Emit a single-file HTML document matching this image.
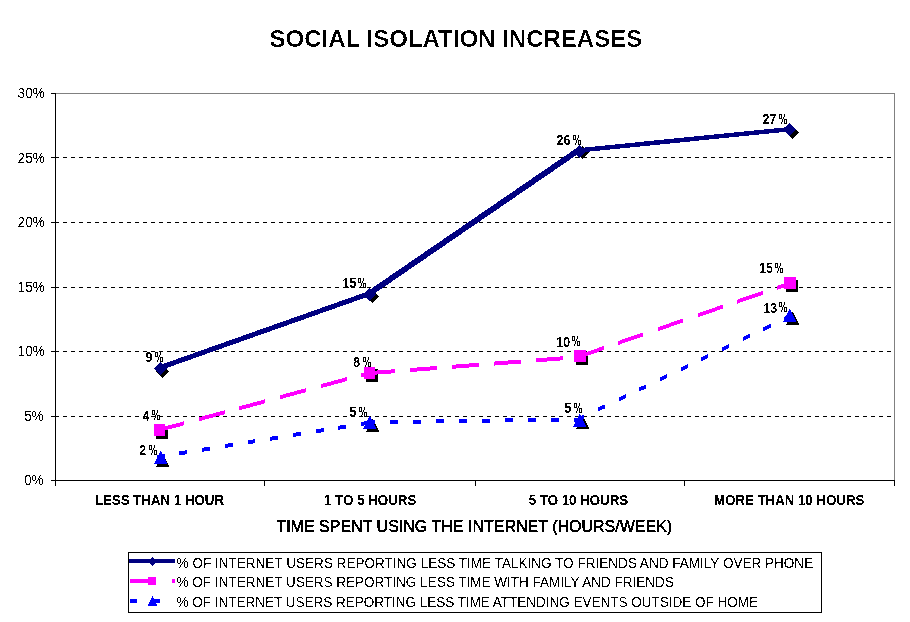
<!DOCTYPE html>
<html><head><meta charset="utf-8"><title>Social Isolation Increases</title>
<style>html,body{margin:0;padding:0;background:#fff}body{width:910px;height:622px;overflow:hidden}svg{display:block}text{font-family:"Liberation Sans",sans-serif;fill:#000}.b{font-weight:bold}</style></head><body>
<svg width="910" height="622" viewBox="0 0 910 622">
<rect x="0" y="0" width="910" height="622" fill="#fff"/>
<defs><filter id="al" x="0" y="0" width="910" height="622" filterUnits="userSpaceOnUse" color-interpolation-filters="sRGB"><feComponentTransfer><feFuncA type="discrete" tableValues="0 1"/></feComponentTransfer></filter><filter id="al2" x="0" y="0" width="910" height="622" filterUnits="userSpaceOnUse" color-interpolation-filters="sRGB"><feComponentTransfer><feFuncA type="discrete" tableValues="0 0 1"/></feComponentTransfer></filter></defs>
<g shape-rendering="crispEdges">
<rect x="55" y="93" width="840" height="1" fill="#808080"/>
<rect x="894" y="93" width="1" height="388" fill="#808080"/>
<line x1="55" y1="157.5" x2="894" y2="157.5" stroke="#000" stroke-width="1" stroke-dasharray="4 4"/>
<line x1="55" y1="222.5" x2="894" y2="222.5" stroke="#000" stroke-width="1" stroke-dasharray="4 4"/>
<line x1="55" y1="287.5" x2="894" y2="287.5" stroke="#000" stroke-width="1" stroke-dasharray="4 4"/>
<line x1="55" y1="351.5" x2="894" y2="351.5" stroke="#000" stroke-width="1" stroke-dasharray="4 4"/>
<line x1="55" y1="416.5" x2="894" y2="416.5" stroke="#000" stroke-width="1" stroke-dasharray="4 4"/>
<rect x="55" y="93" width="1" height="393" fill="#000"/>
<rect x="55" y="480" width="840" height="1" fill="#000"/>
<rect x="51" y="93" width="5" height="1" fill="#000"/>
<rect x="51" y="157" width="5" height="1" fill="#000"/>
<rect x="51" y="222" width="5" height="1" fill="#000"/>
<rect x="51" y="287" width="5" height="1" fill="#000"/>
<rect x="51" y="351" width="5" height="1" fill="#000"/>
<rect x="51" y="416" width="5" height="1" fill="#000"/>
<rect x="51" y="480" width="5" height="1" fill="#000"/>
<rect x="55" y="480" width="1" height="6" fill="#000"/>
<rect x="264" y="480" width="1" height="6" fill="#000"/>
<rect x="475" y="480" width="1" height="6" fill="#000"/>
<rect x="684" y="480" width="1" height="6" fill="#000"/>
<rect x="894" y="480" width="1" height="6" fill="#000"/>
</g>
<g shape-rendering="crispEdges">
<polygon points="162.5,365.0 169.0,371.5 162.5,378.0 156.0,371.5" fill="#000"/>
<polygon points="372.5,290.0 379.0,296.5 372.5,303.0 366.0,296.5" fill="#000"/>
<polygon points="582.5,146.0 589.0,152.5 582.5,159.0 576.0,152.5" fill="#000"/>
<polygon points="792.5,126.0 799.0,132.5 792.5,139.0 786.0,132.5" fill="#000"/>
<line x1="160.5" y1="367.50" x2="369.5" y2="293.50" stroke="#000080" stroke-width="5"/>
<line x1="369.5" y1="293.40" x2="579.5" y2="149.50" stroke="#000080" stroke-width="5.8"/>
<line x1="579.5" y1="150.30" x2="789.5" y2="129.20" stroke="#000080" stroke-width="4.5"/>
<polygon points="160.5,362.0 167.0,368.5 160.5,375.0 154.0,368.5" fill="#000080"/>
<polygon points="369.5,288.0 376.0,294.5 369.5,301.0 363.0,294.5" fill="#000080"/>
<polygon points="579.5,145.0 586.0,151.5 579.5,158.0 573.0,151.5" fill="#000080"/>
<polygon points="789.5,123.0 796.0,129.5 789.5,136.0 783.0,129.5" fill="#000080"/>
<rect x="156" y="427" width="12" height="12" fill="#000"/>
<rect x="366" y="369" width="12" height="13" fill="#000"/>
<rect x="576" y="353" width="12" height="12" fill="#000"/>
<rect x="786" y="280" width="12" height="12" fill="#000"/>
<polygon points="157.77,428.42 183.83,421.35 183.83,425.35 157.77,432.42" fill="#ff00ff"/>
<polygon points="198.50,417.37 224.55,410.30 224.55,414.30 198.50,421.37" fill="#ff00ff"/>
<polygon points="239.22,406.32 265.28,399.24 265.28,403.24 239.22,410.32" fill="#ff00ff"/>
<polygon points="279.95,395.26 306.01,388.19 306.01,392.19 279.95,399.26" fill="#ff00ff"/>
<polygon points="320.68,384.21 346.73,377.13 346.73,381.13 320.68,388.21" fill="#ff00ff"/>
<polygon points="361.40,373.15 369.70,370.90 369.70,374.90 361.40,377.15" fill="#ff00ff"/>
<polygon points="367.71,371.25 394.63,369.19 394.63,373.19 367.71,375.25" fill="#ff00ff"/>
<polygon points="409.78,368.03 436.70,365.97 436.70,369.97 409.78,372.03" fill="#ff00ff"/>
<polygon points="451.86,364.81 478.78,362.75 478.78,366.75 451.86,368.81" fill="#ff00ff"/>
<polygon points="493.94,361.58 520.86,359.52 520.86,363.52 493.94,365.58" fill="#ff00ff"/>
<polygon points="536.01,358.36 562.93,356.30 562.93,360.30 536.01,362.36" fill="#ff00ff"/>
<polygon points="578.09,355.14 579.90,355.00 579.90,359.00 578.09,359.14" fill="#ff00ff"/>
<polygon points="578.01,354.96 603.52,346.09 603.52,350.09 578.01,358.96" fill="#ff00ff"/>
<polygon points="617.87,341.11 643.38,332.24 643.38,336.24 617.87,345.11" fill="#ff00ff"/>
<polygon points="657.74,327.26 683.24,318.39 683.24,322.39 657.74,331.26" fill="#ff00ff"/>
<polygon points="697.60,313.41 723.10,304.54 723.10,308.54 697.60,317.41" fill="#ff00ff"/>
<polygon points="737.46,299.56 762.96,290.69 762.96,294.69 737.46,303.56" fill="#ff00ff"/>
<polygon points="777.32,285.70 790.00,281.30 790.00,285.30 777.32,289.70" fill="#ff00ff"/>
<rect x="154" y="424" width="11" height="12" fill="#ff00ff"/>
<rect x="364" y="367" width="11" height="12" fill="#ff00ff"/>
<rect x="574" y="350" width="12" height="12" fill="#ff00ff"/>
<rect x="784" y="277" width="12" height="12" fill="#ff00ff"/>
<polygon points="162.75,453.5 169.5,467 156.0,467" fill="#000"/>
<polygon points="372.75,418.5 379.5,432 366.0,432" fill="#000"/>
<polygon points="582.75,415.5 589.5,429 576.0,429" fill="#000"/>
<polygon points="792.75,311.5 799.5,325 786.0,325" fill="#000"/>
<polygon points="156.74,455.08 164.64,453.80 164.64,457.80 156.74,459.08" fill="#0000ff"/>
<polygon points="179.44,451.41 187.34,450.13 187.34,454.13 179.44,455.41" fill="#0000ff"/>
<polygon points="202.15,447.74 210.05,446.46 210.05,450.46 202.15,451.74" fill="#0000ff"/>
<polygon points="224.85,444.07 232.75,442.79 232.75,446.79 224.85,448.07" fill="#0000ff"/>
<polygon points="247.56,440.40 255.46,439.12 255.46,443.12 247.56,444.40" fill="#0000ff"/>
<polygon points="270.26,436.73 278.16,435.45 278.16,439.45 270.26,440.73" fill="#0000ff"/>
<polygon points="292.97,433.05 300.87,431.78 300.87,435.78 292.97,437.05" fill="#0000ff"/>
<polygon points="315.67,429.38 323.57,428.11 323.57,432.11 315.67,433.38" fill="#0000ff"/>
<polygon points="338.38,425.71 346.28,424.44 346.28,428.44 338.38,429.71" fill="#0000ff"/>
<polygon points="361.09,422.04 368.98,420.77 368.98,424.77 361.09,426.04" fill="#0000ff"/>
<polygon points="366.70,420.18 374.70,420.08 374.70,424.08 366.70,424.18" fill="#0000ff"/>
<polygon points="389.70,419.90 397.70,419.80 397.70,423.80 389.70,423.90" fill="#0000ff"/>
<polygon points="412.70,419.62 420.70,419.52 420.70,423.52 412.70,423.62" fill="#0000ff"/>
<polygon points="435.70,419.34 443.69,419.25 443.69,423.25 435.70,423.34" fill="#0000ff"/>
<polygon points="458.69,419.06 466.69,418.97 466.69,422.97 458.69,423.06" fill="#0000ff"/>
<polygon points="481.69,418.79 489.69,418.69 489.69,422.69 481.69,422.79" fill="#0000ff"/>
<polygon points="504.69,418.51 512.69,418.41 512.69,422.41 504.69,422.51" fill="#0000ff"/>
<polygon points="527.69,418.23 535.69,418.13 535.69,422.13 527.69,422.23" fill="#0000ff"/>
<polygon points="550.69,417.95 558.69,417.86 558.69,421.86 550.69,421.95" fill="#0000ff"/>
<polygon points="573.69,417.68 579.90,417.60 579.90,421.60 573.69,421.68" fill="#0000ff"/>
<polygon points="577.20,417.81 584.40,414.31 584.40,418.31 577.20,421.81" fill="#0000ff"/>
<polygon points="597.88,407.74 605.07,404.24 605.07,408.24 597.88,411.74" fill="#0000ff"/>
<polygon points="618.56,397.68 625.75,394.17 625.75,398.17 618.56,401.68" fill="#0000ff"/>
<polygon points="639.24,387.61 646.43,384.10 646.43,388.10 639.24,391.61" fill="#0000ff"/>
<polygon points="659.92,377.54 667.11,374.04 667.11,378.04 659.92,381.54" fill="#0000ff"/>
<polygon points="680.60,367.47 687.79,363.97 687.79,367.97 680.60,371.47" fill="#0000ff"/>
<polygon points="701.28,357.40 708.47,353.90 708.47,357.90 701.28,361.40" fill="#0000ff"/>
<polygon points="721.96,347.33 729.15,343.83 729.15,347.83 721.96,351.33" fill="#0000ff"/>
<polygon points="742.63,337.26 749.83,333.76 749.83,337.76 742.63,341.26" fill="#0000ff"/>
<polygon points="763.31,327.19 770.51,323.69 770.51,327.69 763.31,331.19" fill="#0000ff"/>
<polygon points="783.99,317.13 790.00,314.20 790.00,318.20 783.99,321.13" fill="#0000ff"/>
<polygon points="160.75,450.5 167.5,464 154.0,464" fill="#0000ff"/>
<polygon points="369.75,415.5 376.5,429 363.0,429" fill="#0000ff"/>
<polygon points="579.75,413.5 586.5,427 573.0,427" fill="#0000ff"/>
<polygon points="789.75,308.5 796.5,322 783.0,322" fill="#0000ff"/>
</g>
<g shape-rendering="crispEdges">
<rect x="128.5" y="552.5" width="693" height="60" fill="#fff" stroke="#000" stroke-width="1"/>
<rect x="129" y="559" width="46" height="4" fill="#000080"/>
<polygon points="152.5,557.0 157.0,561.5 152.5,566.0 148.0,561.5" fill="#000080"/>
<rect x="130" y="579" width="26" height="4" fill="#ff00ff"/><rect x="172" y="579" width="3" height="4" fill="#ff00ff"/>
<rect x="148" y="577" width="8" height="8" fill="#ff00ff"/>
<rect x="130" y="599" width="7" height="4" fill="#0000ff"/><rect x="153" y="599" width="7" height="4" fill="#0000ff"/>
<rect x="152" y="596" width="1" height="2" fill="#0000ff"/>
<rect x="151" y="598" width="3" height="2" fill="#0000ff"/>
<rect x="150" y="600" width="5" height="2" fill="#0000ff"/>
<rect x="149" y="602" width="7" height="2" fill="#0000ff"/>
<rect x="148" y="604" width="9" height="2" fill="#0000ff"/>
</g>
<g shape-rendering="crispEdges" fill="#000">
<path transform="translate(155,352)" d="M0 0h3v1h-3zM5 0h1v1h-1zM0 1h1v1h-1zM2 1h1v1h-1zM5 1h1v1h-1zM0 2h1v1h-1zM2 2h1v1h-1zM5 2h1v1h-1zM0 3h1v1h-1zM2 3h1v1h-1zM4 3h1v1h-1zM0 4h3v1h-3zM4 4h1v1h-1zM3 5h1v1h-1zM5 5h3v1h-3zM3 6h1v1h-1zM5 6h1v1h-1zM7 6h1v1h-1zM3 7h1v1h-1zM5 7h1v1h-1zM7 7h1v1h-1zM2 8h1v1h-1zM5 8h1v1h-1zM7 8h1v1h-1zM2 9h1v1h-1zM5 9h3v1h-3z"/>
<path transform="translate(358,278)" d="M0 0h3v1h-3zM5 0h1v1h-1zM0 1h1v1h-1zM2 1h1v1h-1zM5 1h1v1h-1zM0 2h1v1h-1zM2 2h1v1h-1zM5 2h1v1h-1zM0 3h1v1h-1zM2 3h1v1h-1zM4 3h1v1h-1zM0 4h3v1h-3zM4 4h1v1h-1zM3 5h1v1h-1zM5 5h3v1h-3zM3 6h1v1h-1zM5 6h1v1h-1zM7 6h1v1h-1zM3 7h1v1h-1zM5 7h1v1h-1zM7 7h1v1h-1zM2 8h1v1h-1zM5 8h1v1h-1zM7 8h1v1h-1zM2 9h1v1h-1zM5 9h3v1h-3z"/>
<path transform="translate(573,135)" d="M0 0h3v1h-3zM5 0h1v1h-1zM0 1h1v1h-1zM2 1h1v1h-1zM5 1h1v1h-1zM0 2h1v1h-1zM2 2h1v1h-1zM5 2h1v1h-1zM0 3h1v1h-1zM2 3h1v1h-1zM4 3h1v1h-1zM0 4h3v1h-3zM4 4h1v1h-1zM3 5h1v1h-1zM5 5h3v1h-3zM3 6h1v1h-1zM5 6h1v1h-1zM7 6h1v1h-1zM3 7h1v1h-1zM5 7h1v1h-1zM7 7h1v1h-1zM2 8h1v1h-1zM5 8h1v1h-1zM7 8h1v1h-1zM2 9h1v1h-1zM5 9h3v1h-3z"/>
<path transform="translate(779,114)" d="M0 0h3v1h-3zM5 0h1v1h-1zM0 1h1v1h-1zM2 1h1v1h-1zM5 1h1v1h-1zM0 2h1v1h-1zM2 2h1v1h-1zM5 2h1v1h-1zM0 3h1v1h-1zM2 3h1v1h-1zM4 3h1v1h-1zM0 4h3v1h-3zM4 4h1v1h-1zM3 5h1v1h-1zM5 5h3v1h-3zM3 6h1v1h-1zM5 6h1v1h-1zM7 6h1v1h-1zM3 7h1v1h-1zM5 7h1v1h-1zM7 7h1v1h-1zM2 8h1v1h-1zM5 8h1v1h-1zM7 8h1v1h-1zM2 9h1v1h-1zM5 9h3v1h-3z"/>
<path transform="translate(152,410)" d="M0 0h3v1h-3zM5 0h1v1h-1zM0 1h1v1h-1zM2 1h1v1h-1zM5 1h1v1h-1zM0 2h1v1h-1zM2 2h1v1h-1zM5 2h1v1h-1zM0 3h1v1h-1zM2 3h1v1h-1zM4 3h1v1h-1zM0 4h3v1h-3zM4 4h1v1h-1zM3 5h1v1h-1zM5 5h3v1h-3zM3 6h1v1h-1zM5 6h1v1h-1zM7 6h1v1h-1zM3 7h1v1h-1zM5 7h1v1h-1zM7 7h1v1h-1zM2 8h1v1h-1zM5 8h1v1h-1zM7 8h1v1h-1zM2 9h1v1h-1zM5 9h3v1h-3z"/>
<path transform="translate(363,357)" d="M0 0h3v1h-3zM5 0h1v1h-1zM0 1h1v1h-1zM2 1h1v1h-1zM5 1h1v1h-1zM0 2h1v1h-1zM2 2h1v1h-1zM5 2h1v1h-1zM0 3h1v1h-1zM2 3h1v1h-1zM4 3h1v1h-1zM0 4h3v1h-3zM4 4h1v1h-1zM3 5h1v1h-1zM5 5h3v1h-3zM3 6h1v1h-1zM5 6h1v1h-1zM7 6h1v1h-1zM3 7h1v1h-1zM5 7h1v1h-1zM7 7h1v1h-1zM2 8h1v1h-1zM5 8h1v1h-1zM7 8h1v1h-1zM2 9h1v1h-1zM5 9h3v1h-3z"/>
<path transform="translate(572,336)" d="M0 0h3v1h-3zM5 0h1v1h-1zM0 1h1v1h-1zM2 1h1v1h-1zM5 1h1v1h-1zM0 2h1v1h-1zM2 2h1v1h-1zM5 2h1v1h-1zM0 3h1v1h-1zM2 3h1v1h-1zM4 3h1v1h-1zM0 4h3v1h-3zM4 4h1v1h-1zM3 5h1v1h-1zM5 5h3v1h-3zM3 6h1v1h-1zM5 6h1v1h-1zM7 6h1v1h-1zM3 7h1v1h-1zM5 7h1v1h-1zM7 7h1v1h-1zM2 8h1v1h-1zM5 8h1v1h-1zM7 8h1v1h-1zM2 9h1v1h-1zM5 9h3v1h-3z"/>
<path transform="translate(775,263)" d="M0 0h3v1h-3zM5 0h1v1h-1zM0 1h1v1h-1zM2 1h1v1h-1zM5 1h1v1h-1zM0 2h1v1h-1zM2 2h1v1h-1zM5 2h1v1h-1zM0 3h1v1h-1zM2 3h1v1h-1zM4 3h1v1h-1zM0 4h3v1h-3zM4 4h1v1h-1zM3 5h1v1h-1zM5 5h3v1h-3zM3 6h1v1h-1zM5 6h1v1h-1zM7 6h1v1h-1zM3 7h1v1h-1zM5 7h1v1h-1zM7 7h1v1h-1zM2 8h1v1h-1zM5 8h1v1h-1zM7 8h1v1h-1zM2 9h1v1h-1zM5 9h3v1h-3z"/>
<path transform="translate(149,445)" d="M0 0h3v1h-3zM5 0h1v1h-1zM0 1h1v1h-1zM2 1h1v1h-1zM5 1h1v1h-1zM0 2h1v1h-1zM2 2h1v1h-1zM5 2h1v1h-1zM0 3h1v1h-1zM2 3h1v1h-1zM4 3h1v1h-1zM0 4h3v1h-3zM4 4h1v1h-1zM3 5h1v1h-1zM5 5h3v1h-3zM3 6h1v1h-1zM5 6h1v1h-1zM7 6h1v1h-1zM3 7h1v1h-1zM5 7h1v1h-1zM7 7h1v1h-1zM2 8h1v1h-1zM5 8h1v1h-1zM7 8h1v1h-1zM2 9h1v1h-1zM5 9h3v1h-3z"/>
<path transform="translate(359,407)" d="M0 0h3v1h-3zM5 0h1v1h-1zM0 1h1v1h-1zM2 1h1v1h-1zM5 1h1v1h-1zM0 2h1v1h-1zM2 2h1v1h-1zM5 2h1v1h-1zM0 3h1v1h-1zM2 3h1v1h-1zM4 3h1v1h-1zM0 4h3v1h-3zM4 4h1v1h-1zM3 5h1v1h-1zM5 5h3v1h-3zM3 6h1v1h-1zM5 6h1v1h-1zM7 6h1v1h-1zM3 7h1v1h-1zM5 7h1v1h-1zM7 7h1v1h-1zM2 8h1v1h-1zM5 8h1v1h-1zM7 8h1v1h-1zM2 9h1v1h-1zM5 9h3v1h-3z"/>
<path transform="translate(574,403)" d="M0 0h3v1h-3zM5 0h1v1h-1zM0 1h1v1h-1zM2 1h1v1h-1zM5 1h1v1h-1zM0 2h1v1h-1zM2 2h1v1h-1zM5 2h1v1h-1zM0 3h1v1h-1zM2 3h1v1h-1zM4 3h1v1h-1zM0 4h3v1h-3zM4 4h1v1h-1zM3 5h1v1h-1zM5 5h3v1h-3zM3 6h1v1h-1zM5 6h1v1h-1zM7 6h1v1h-1zM3 7h1v1h-1zM5 7h1v1h-1zM7 7h1v1h-1zM2 8h1v1h-1zM5 8h1v1h-1zM7 8h1v1h-1zM2 9h1v1h-1zM5 9h3v1h-3z"/>
<path transform="translate(779,302)" d="M0 0h3v1h-3zM5 0h1v1h-1zM0 1h1v1h-1zM2 1h1v1h-1zM5 1h1v1h-1zM0 2h1v1h-1zM2 2h1v1h-1zM5 2h1v1h-1zM0 3h1v1h-1zM2 3h1v1h-1zM4 3h1v1h-1zM0 4h3v1h-3zM4 4h1v1h-1zM3 5h1v1h-1zM5 5h3v1h-3zM3 6h1v1h-1zM5 6h1v1h-1zM7 6h1v1h-1zM3 7h1v1h-1zM5 7h1v1h-1zM7 7h1v1h-1zM2 8h1v1h-1zM5 8h1v1h-1zM7 8h1v1h-1zM2 9h1v1h-1zM5 9h3v1h-3z"/>
</g>
<g filter="url(#al)">
<text x="17.6" y="98" font-size="14" textLength="27.2" lengthAdjust="spacingAndGlyphs">30%</text>
<text x="17.6" y="163" font-size="14" textLength="27.2" lengthAdjust="spacingAndGlyphs">25%</text>
<text x="17.6" y="227" font-size="14" textLength="27.2" lengthAdjust="spacingAndGlyphs">20%</text>
<text x="17.6" y="292" font-size="14" textLength="27.2" lengthAdjust="spacingAndGlyphs">15%</text>
<text x="17.6" y="356" font-size="14" textLength="27.2" lengthAdjust="spacingAndGlyphs">10%</text>
<text x="24.3" y="421" font-size="14" textLength="19.4" lengthAdjust="spacingAndGlyphs">5%</text>
<text x="24.3" y="485" font-size="14" textLength="19.4" lengthAdjust="spacingAndGlyphs">0%</text>
<text class="b" x="145.4" y="361.8" font-size="14" textLength="6.9" lengthAdjust="spacingAndGlyphs">9</text>
<text class="b" x="342.5" y="287.9" font-size="14" textLength="13.8" lengthAdjust="spacingAndGlyphs">15</text>
<text class="b" x="556.5" y="144.8" font-size="14" textLength="13.8" lengthAdjust="spacingAndGlyphs">26</text>
<text class="b" x="762.5" y="124.1" font-size="14" textLength="13.8" lengthAdjust="spacingAndGlyphs">27</text>
<text class="b" x="142.5" y="420.5" font-size="14" textLength="6.9" lengthAdjust="spacingAndGlyphs">4</text>
<text class="b" x="353.3" y="366.6" font-size="14" textLength="6.9" lengthAdjust="spacingAndGlyphs">8</text>
<text class="b" x="556.3" y="346.5" font-size="14" textLength="13.8" lengthAdjust="spacingAndGlyphs">10</text>
<text class="b" x="759.1" y="272.6" font-size="14" textLength="13.8" lengthAdjust="spacingAndGlyphs">15</text>
<text class="b" x="139.3" y="454.7" font-size="14" textLength="6.9" lengthAdjust="spacingAndGlyphs">2</text>
<text class="b" x="349.4" y="416.6" font-size="14" textLength="6.9" lengthAdjust="spacingAndGlyphs">5</text>
<text class="b" x="564.5" y="412.9" font-size="14" textLength="6.9" lengthAdjust="spacingAndGlyphs">5</text>
<text class="b" x="763.4" y="312.5" font-size="14" textLength="13.8" lengthAdjust="spacingAndGlyphs">13</text>
<text class="b" x="94.9" y="505" font-size="14" textLength="129.1" lengthAdjust="spacingAndGlyphs" stroke="#000" stroke-width="0.12">LESS THAN 1 HOUR</text>
<text class="b" x="324.1" y="505" font-size="14" textLength="92.2" lengthAdjust="spacingAndGlyphs" stroke="#000" stroke-width="0.12">1 TO 5 HOURS</text>
<text class="b" x="528.8" y="505" font-size="14" textLength="99.3" lengthAdjust="spacingAndGlyphs" stroke="#000" stroke-width="0.12">5 TO 10 HOURS</text>
<text class="b" x="714.0" y="505" font-size="14" textLength="150.3" lengthAdjust="spacingAndGlyphs" stroke="#000" stroke-width="0.12">MORE THAN 10 HOURS</text>
<text x="276.4" y="532" font-size="16" textLength="395.8" lengthAdjust="spacingAndGlyphs" stroke="#000" stroke-width="0.4">TIME SPENT USING THE INTERNET (HOURS/WEEK)</text>
<text x="176.6" y="568" font-size="14" textLength="636.6" lengthAdjust="spacingAndGlyphs">% OF INTERNET USERS REPORTING LESS TIME TALKING TO FRIENDS AND FAMILY OVER PHONE</text>
<text x="176.6" y="587" font-size="14" textLength="497.3" lengthAdjust="spacingAndGlyphs">% OF INTERNET USERS REPORTING LESS TIME WITH FAMILY AND FRIENDS</text>
<text x="176.6" y="607" font-size="14" textLength="581.3" lengthAdjust="spacingAndGlyphs">% OF INTERNET USERS REPORTING LESS TIME ATTENDING EVENTS OUTSIDE OF HOME</text>
</g>
<g filter="url(#al2)">
<text class="b" x="269.6" y="47.2" font-size="24" textLength="372.6" lengthAdjust="spacing">SOCIAL ISOLATION INCREASES</text>
</g>
</svg></body></html>
